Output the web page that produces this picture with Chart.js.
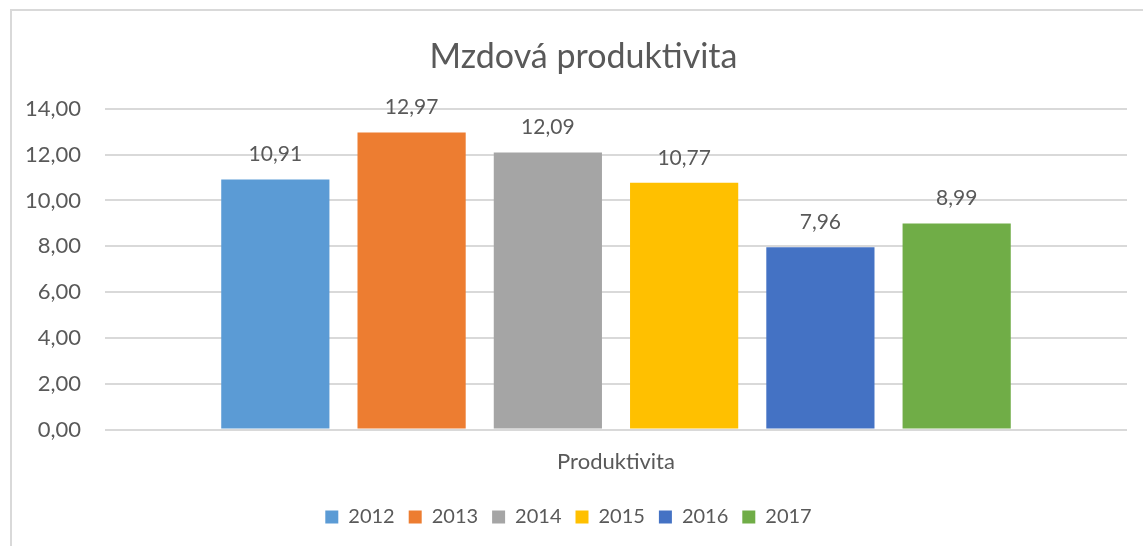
<!DOCTYPE html>
<html>
<head>
<meta charset="utf-8">
<script src="https://cdn.jsdelivr.net/npm/chart.js@4.4.1/dist/chart.umd.min.js"></script>
<style>
  html, body { margin: 0; padding: 0; background: #fff; }
  #wrap { position: relative; width: 1143px; height: 546px; overflow: hidden; }
  #frame { position: absolute; left: 10px; top: 9px; width: 1160px; height: 560px; border: 2px solid #d9d9d9; box-sizing: border-box; }
  canvas { position: absolute; left: 0; top: 0; }
</style>
</head>
<body>
<div id="wrap">
  <div id="frame"></div>
  <canvas id="chart" width="1143" height="546"></canvas>
</div>
<script>
// Chart data
var categories = [ "Produktivita" ];
var years = [ "2012", "2013", "2014", "2015", "2016", "2017" ];
var values = [ 10.91, 12.97, 12.09, 10.77, 7.96, 8.99 ];
var colors = [ "#5B9BD5", "#ED7D31", "#A5A5A5", "#FFC000", "#4472C4", "#70AD47" ];

var fontFamily = "Lato, 'Open Sans', sans-serif",
	textColor = "#595959";

var formatNum = function( v ) {
	return Number( v ).toFixed( 2 ).replace( ".", "," );
};

// Value labels above each bar
var barLabels = {
	id: "barLabels",
	afterLayout: function( chart ) {
		// the Excel title sits centred on the whole frame, a bit right of the plot
		if ( chart.titleBlock ) {
			chart.titleBlock.left += 30;
		}
	},
	afterDatasetsDraw: function( chart ) {
		var ctx = chart.ctx;
		ctx.save();
		ctx.font = "21px " + fontFamily;
		ctx.fillStyle = textColor;
		ctx.textAlign = "center";
		ctx.textBaseline = "middle";
		chart.data.datasets.forEach( function( ds, i ) {
			var meta = chart.getDatasetMeta( i );
			meta.data.forEach( function( bar, j ) {
				ctx.fillText( formatNum( ds.data[ j ] ), bar.x, bar.y - 25 );
			} );
		} );
		ctx.restore();
	}
};

var datasets = years.map( function( y, i ) {
	return {
		label: y,
		data: [ values[ i ] ],
		backgroundColor: colors[ i ],
		barPercentage: 0.794,
		categoryPercentage: 0.8
	};
} );

new Chart( document.getElementById( "chart" ), {
	type: "bar",
	data: { labels: categories, datasets: datasets },
	options: {
		responsive: false,
		animation: false,
		events: [],
		layout: { padding: { left: 10, right: 16, top: 37, bottom: 9 } },
		plugins: {
			title: {
				display: true,
				text: "Mzdová produktivita",
				color: textColor,
				font: { family: fontFamily, size: 34, weight: "normal" },
				padding: { top: 0, bottom: 31 }
			},
			legend: {
				position: "bottom",
				labels: {
					color: textColor,
					font: { family: fontFamily, size: 20 },
					boxWidth: 13,
					boxHeight: 13,
					padding: 14
				}
			},
			tooltip: { enabled: false }
		},
		scales: {
			x: {
				grid: { display: false },
				border: { display: false },
				ticks: { color: textColor, font: { family: fontFamily, size: 22 }, padding: 11 },
				afterFit: function( axis ) { axis.height += 7; }
			},
			y: {
				min: 0,
				max: 14,
				ticks: {
					stepSize: 2,
					color: textColor,
					font: { family: fontFamily, size: 22 },
					padding: 24,
					callback: function( v ) { return formatNum( v ); }
				},
				grid: { color: "#d9d9d9", lineWidth: 2, drawTicks: false },
				border: { display: false },
				afterFit: function( axis ) { axis.width = 95; }
			}
		}
	},
	plugins: [ barLabels ]
} );
</script>
</body>
</html>
